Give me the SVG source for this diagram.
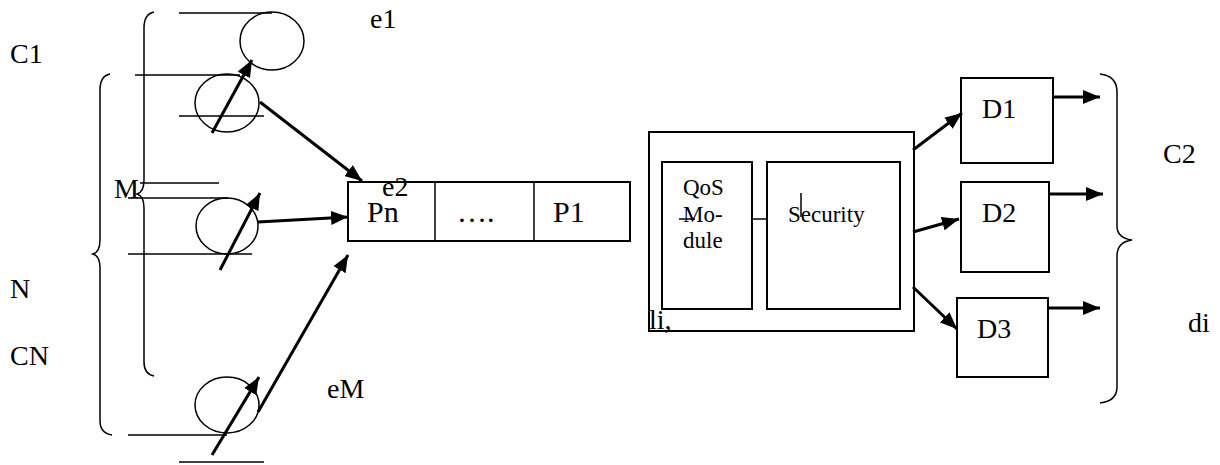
<svg xmlns="http://www.w3.org/2000/svg" width="1220" height="465" viewBox="0 0 1220 465">
  <style>
    text { font-family: 'Liberation Serif', 'DejaVu Serif', serif; fill: #000; }
    .lbl { font-size: 28px; }
    .big { font-size: 30px; }
    .sm { font-size: 23px; }
    .thin { fill: none; stroke: #000; stroke-width: 1.5; }
    .box { fill: #fff; stroke: #000; stroke-width: 2; }
    .arr { fill: none; stroke: #000; stroke-width: 3; marker-end: url(#ah); }
    .brace { fill: none; stroke: #000; stroke-width: 1.5; }
  </style>
  <defs>
    <marker id="ah" markerUnits="userSpaceOnUse" markerWidth="18" markerHeight="14" refX="17" refY="7" orient="auto">
      <path d="M0,0 L17,7 L0,14 z" fill="#000"/>
    </marker>
  </defs>
  <rect width="1220" height="465" fill="#fff"/>

  <!-- braces -->
  <g id="braces">
    <path class="brace" d="M154,12 Q144,14 144,28 L144,180 Q144,192 137,194 Q144,196 144,208 L144,362 Q144,374 154,376"/>
    <path class="brace" d="M110,74 Q100,76 100,90 L100,240 Q100,252 93,254 Q100,256 100,268 L100,421 Q100,433 112,435"/>
    <path class="brace" d="M1100,74 Q1117,76 1117,92 L1117,226 Q1117,238 1132,240 Q1117,242 1117,256 L1117,387 Q1117,401 1100,403"/>
  </g>

  <!-- source rails -->
  <g id="rails">
    <line class="thin" x1="179" y1="13" x2="272" y2="13"/>
    <line class="thin" x1="135" y1="75" x2="240" y2="75"/>
    <line class="thin" x1="179" y1="116" x2="264" y2="116"/>
    <line class="thin" x1="140" y1="183" x2="219" y2="183"/>
    <line class="thin" x1="128" y1="198" x2="228" y2="198"/>
    <line class="thin" x1="128" y1="254" x2="252" y2="254"/>
    <line class="thin" x1="128" y1="435" x2="227" y2="435"/>
    <line class="thin" x1="179" y1="462" x2="264" y2="462"/>
  </g>

  <!-- sources -->
  <g id="e1"><ellipse class="thin" cx="272" cy="41" rx="32" ry="29"/></g>
  <g id="src1"><ellipse class="thin" cx="227" cy="103" rx="32" ry="29"/></g>
  <g id="src2"><ellipse class="thin" cx="227" cy="226" rx="31" ry="28"/></g>
  <g id="srcM"><ellipse class="thin" cx="227" cy="405" rx="32" ry="28"/></g>

  <!-- queue -->
  <g id="queue">
    <rect class="box" x="348" y="182" width="282" height="59"/>
    <line class="thin" x1="435" y1="182" x2="435" y2="241"/>
    <line class="thin" x1="534" y1="182" x2="534" y2="241"/>
    <text class="big" x="367" y="222">Pn</text>
    <text class="big" x="457" y="222">….</text>
    <text class="big" x="553" y="222">P1</text>
  </g>

  <!-- scheduler -->
  <g id="scheduler">
    <rect class="box" x="649" y="132" width="265" height="199"/>
    <rect class="box" x="662" y="162" width="90" height="147"/>
    <rect class="box" x="767" y="162" width="133" height="147"/>
    <line class="thin" x1="752" y1="219" x2="767" y2="219"/>
    <line class="thin" x1="679" y1="219" x2="695" y2="219"/>
    <line class="thin" x1="801" y1="193" x2="801" y2="217"/>
    <text class="sm" x="683" y="195">QoS</text>
    <text class="sm" x="683" y="222">Mo-</text>
    <text class="sm" x="683" y="248">dule</text>
    <text class="sm" x="788" y="222">Security</text>
    <text class="lbl" x="649" y="329">li,</text>
  </g>

  <!-- destinations -->
  <g id="D1">
    <rect class="box" x="961" y="78" width="92" height="85"/>
    <text class="lbl" x="982" y="118">D1</text>
  </g>
  <g id="D2">
    <rect class="box" x="961" y="182" width="88" height="90"/>
    <text class="lbl" x="982" y="222">D2</text>
  </g>
  <g id="D3">
    <rect class="box" x="957" y="298" width="91" height="79"/>
    <text class="lbl" x="977" y="338">D3</text>
  </g>

  <!-- connectors -->
  <g id="connectors">
    <line class="arr" x1="212" y1="133" x2="252" y2="60"/>
    <line class="arr" x1="220" y1="270" x2="260" y2="193"/>
    <line class="arr" x1="212" y1="455" x2="259" y2="377"/>
    <line class="arr" x1="260" y1="102" x2="362" y2="181"/>
    <line class="arr" x1="258" y1="222" x2="348" y2="217"/>
    <line class="arr" x1="258" y1="412" x2="348" y2="255"/>
    <line class="arr" x1="913" y1="150" x2="962" y2="113"/>
    <line class="arr" x1="913" y1="232" x2="959" y2="219"/>
    <line class="arr" x1="913" y1="287" x2="957" y2="329"/>
    <line class="arr" x1="1053" y1="97" x2="1100" y2="97"/>
    <line class="arr" x1="1049" y1="194" x2="1103" y2="194"/>
    <line class="arr" x1="1048" y1="308" x2="1100" y2="308"/>
  </g>

  <!-- labels -->
  <g id="labels">
    <text class="lbl" x="10" y="63">C1</text>
    <text class="lbl" x="114" y="198">M</text>
    <text class="lbl" x="10" y="298">N</text>
    <text class="lbl" x="10" y="365">CN</text>
    <text class="lbl" x="370" y="28">e1</text>
    <text class="lbl" x="382" y="196">e2</text>
    <text class="lbl" x="327" y="398">eM</text>
    <text class="lbl" x="1163" y="163">C2</text>
    <text class="lbl" x="1188" y="332">di</text>
  </g>
</svg>
